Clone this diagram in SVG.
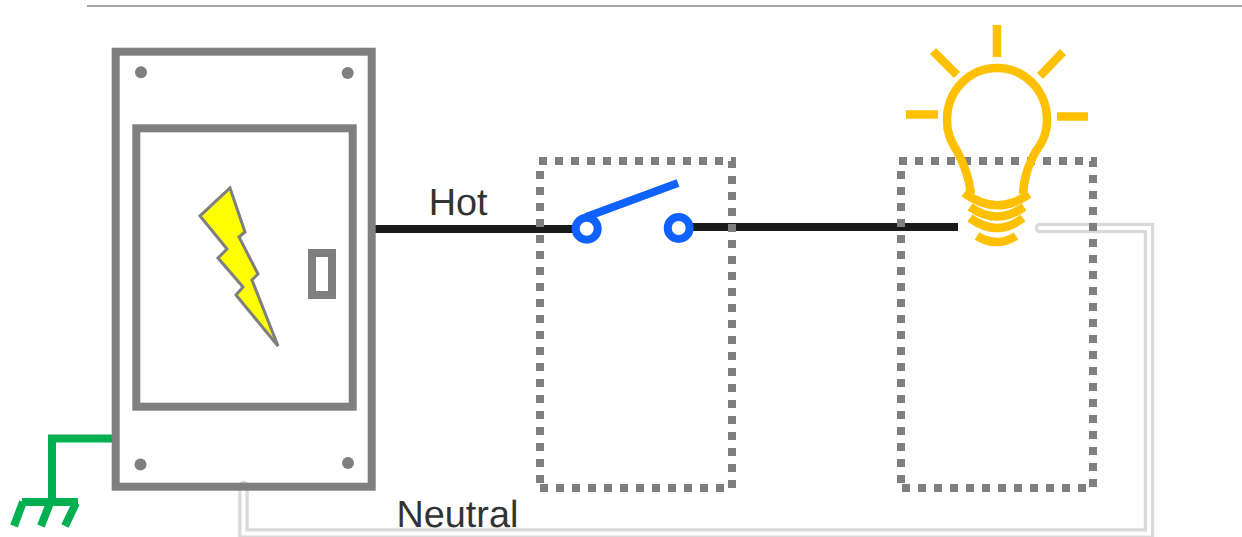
<svg xmlns="http://www.w3.org/2000/svg" width="1242" height="537" viewBox="0 0 1242 537">
<style>
text{font-family:"Liberation Sans",Arial,sans-serif;font-size:37.8px;fill:#333;text-rendering:geometricPrecision}
.g{fill:none;stroke:#7f7f7f;stroke-width:8}
.d{fill:#7f7f7f}
.dash{fill:none;stroke:#7f7f7f;stroke-width:8;stroke-dasharray:8 8}
.b{fill:none;stroke:#1a1a1a;stroke-width:8}
.bl{fill:none;stroke:#0f62fe;stroke-width:8}
.y{fill:none;stroke:#ffc000;stroke-width:8.500}
.gn{fill:none;stroke:#00b050;stroke-width:8}
</style>
<rect width="1242" height="537" fill="#fff"/>
<path d="M87 6H1242" fill="none" stroke="#a6a6a6" stroke-width="2"/>
<g id="connectors">
<path id="neutral-outer" d="M1040 228H1149V533.500H243.500V486" fill="none" stroke="#d9d9d9" stroke-width="10.500" stroke-linecap="round"/>
<path id="neutral-inner" d="M1040 228H1149V533.500H243.500V486" fill="none" stroke="#fff" stroke-width="4" stroke-linecap="round"/>
<path id="hot-in" class="b" d="M375 229H578"/>
<path id="hot-out" class="b" d="M688 227H958"/>
<path id="ground-wire" class="gn" d="M112 438.500H52V502"/>
</g>
<g id="panel">
<rect class="g" x="115.700" y="51.700" width="256" height="435"/>
<rect class="g" x="136.300" y="128.300" width="216.400" height="278.400"/>
<circle class="d" cx="141" cy="72.300" r="6"/><circle class="d" cx="347.700" cy="73" r="6"/>
<circle class="d" cx="140.500" cy="464.500" r="6"/><circle class="d" cx="348" cy="463" r="6"/>
<path d="M230 188L245 232L239 237L258 274L252 280L278 346L236 295L243 287L218 258L227 249L200 216Z" fill="#ff0" stroke="#7f7f7f" stroke-width="3"/>
<rect class="g" x="312" y="253" width="20" height="42"/>
</g>
<g id="switch-box">
<path class="dash" d="M539 161H732V488H540"/>
<path class="dash" d="M540 171V488"/>
</g>
<g id="switch">
<circle class="bl" cx="586.700" cy="228.700" r="11"/>
<circle class="bl" cx="678.700" cy="228" r="11"/>
<path class="bl" d="M586 217L678 183"/>
</g>
<g id="light-box">
<path class="dash" d="M899 161H1093V488H901"/>
<path class="dash" d="M901 171V488"/>
</g>
<g id="bulb">
<path class="y" d="M971 194C969 176 964 164 957 151C950 140 947 132 947 120C947 90 970 68 997 68C1024 68 1047 90 1047 120C1047 132 1044 140 1036 151C1029 164 1024 176 1023 194"/>
<path class="y" d="M964 193Q997 217 1029 194M970 207Q997 226 1024 207M970 218Q997 238 1023 218M977 236Q997 248 1016 236"/>
<path class="y" d="M997 25V57M933 51L957 75M1063 52L1040 76M906 114.500H938M1057 116.500H1088"/>
</g>
<g id="ground">
<path class="gn" d="M22 502H78M23 502L14 526M50 503L41 526M76 503L65 526"/>
</g>
<g id="labels">
<text x="428.700" y="215">Hot</text>
<text x="396.500" y="527.300">Neutral</text>
</g>
</svg>
